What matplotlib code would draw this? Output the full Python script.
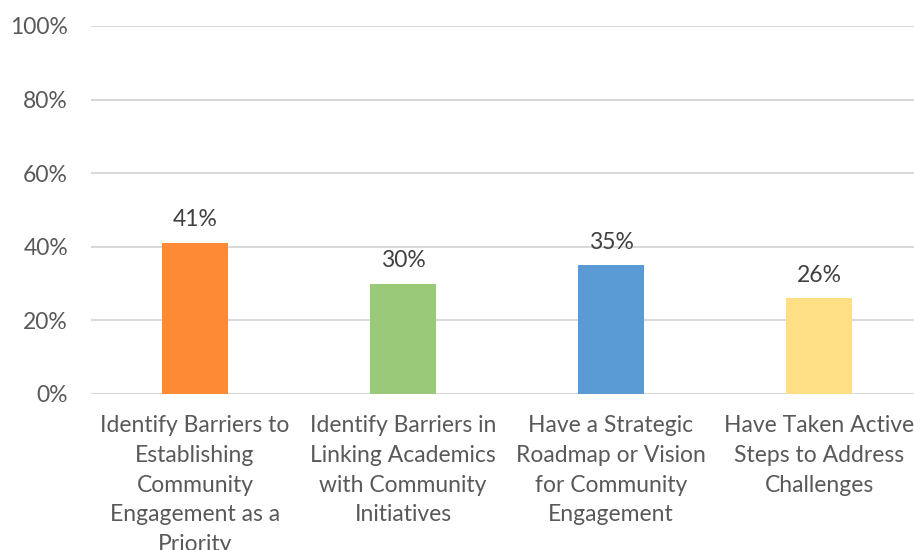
import matplotlib.pyplot as plt
from matplotlib.ticker import PercentFormatter

categories = [
    "Identify Barriers to\nEstablishing\nCommunity\nEngagement as a\nPriority",
    "Identify Barriers in\nLinking Academics\nwith Community\nInitiatives",
    "Have a Strategic\nRoadmap or Vision\nfor Community\nEngagement",
    "Have Taken Active\nSteps to Address\nChallenges",
]
values = [41, 30, 35, 26]
colors = ["#FF8A36", "#9BC97A", "#5B9BD5", "#FFDF85"]
yticks = [0, 20, 40, 60, 80, 100]

text_color = "#595959"
plt.rcParams["font.family"] = ["Lato", "DejaVu Sans"]

fig = plt.figure(figsize=(9.14, 5.5), dpi=100)
ax = fig.add_axes([91 / 914, 156 / 550, 832 / 914, 368 / 550])

x = range(len(categories))
bars = ax.bar(x, values, width=0.317, color=colors, zorder=3)

for b, v in zip(bars, values):
    ax.annotate(f"{v}%", (b.get_x() + b.get_width() / 2, v),
                xytext=(0, 12), textcoords="offset points",
                ha="center", va="baseline", fontsize=16.5, color="#404040")

ax.set_xlim(-0.5, 3.5)
ax.set_ylim(0, 100)
ax.set_yticks(yticks)
ax.yaxis.set_major_formatter(PercentFormatter(decimals=0))
ax.set_xticks(list(x))
ax.set_xticklabels(categories, fontsize=16.5, color=text_color, linespacing=1.52)
ax.tick_params(axis="y", labelsize=16.5, labelcolor=text_color, length=0, pad=16.5)
ax.tick_params(axis="x", length=0, pad=15)

ax.grid(axis="y", color="#D9D9D9", linewidth=1.5, zorder=0)
for s in ax.spines.values():
    s.set_visible(False)

fig.savefig("out.png", dpi=100)
